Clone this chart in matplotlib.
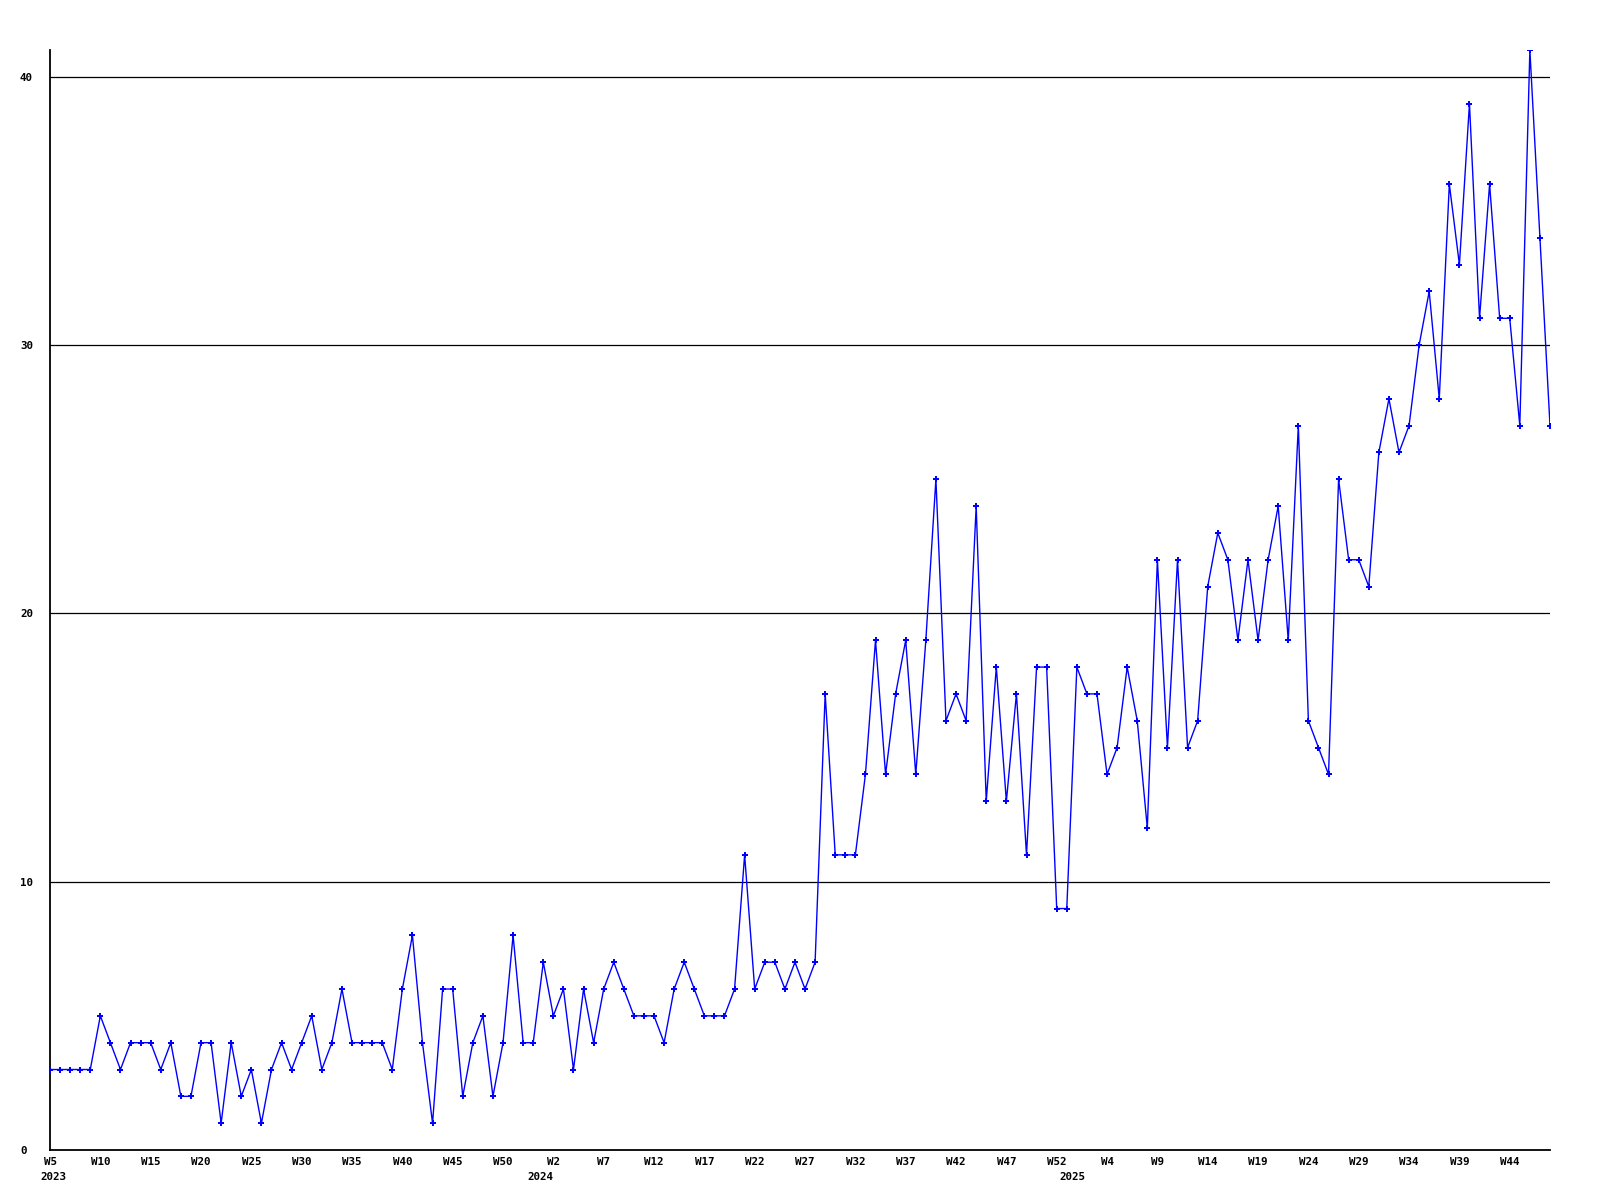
import matplotlib
matplotlib.use('Agg')
import matplotlib.pyplot as plt
import matplotlib.transforms as mtransforms

# weekly counts, 2023 W5 .. 2025 W48
counts_2023 = [3, 3, 3, 3, 3, 5, 4, 3, 4, 4, 4, 3, 4, 2, 2, 4, 4, 1, 4, 2,
               3, 1, 3, 4, 3, 4, 5, 3, 4, 6, 4, 4, 4, 4, 3, 6, 8, 4, 1, 6,
               6, 2, 4, 5, 2, 4, 8, 4]
counts_2024 = [4, 7, 5, 6, 3, 6, 4, 6, 7, 6, 5, 5, 5, 4, 6, 7, 6, 5, 5, 5,
               6, 11, 6, 7, 7, 6, 7, 6, 7, 17, 11, 11, 11, 14, 19, 14, 17, 19, 14, 19,
               25, 16, 17, 16, 24, 13, 18, 13, 17, 11, 18, 18]
counts_2025 = [9, 9, 18, 17, 17, 14, 15, 18, 16, 12, 22, 15, 22, 15, 16, 21, 23, 22, 19, 22,
               19, 22, 24, 19, 27, 16, 15, 14, 25, 22, 22, 21, 26, 28, 26, 27, 30, 32, 28, 36,
               33, 39, 31, 36, 31, 31, 27, 41, 34, 27]

counts = counts_2023 + counts_2024 + counts_2025

# x tick labels (every 5th week) and where they sit in the series
tick_labels = ['W5', 'W10', 'W15', 'W20', 'W25', 'W30', 'W35', 'W40', 'W45', 'W50',
               'W2', 'W7', 'W12', 'W17', 'W22', 'W27', 'W32', 'W37', 'W42', 'W47', 'W52',
               'W4', 'W9', 'W14', 'W19', 'W24', 'W29', 'W34', 'W39', 'W44']
tick_pos = [0, 5, 10, 15, 20, 25, 30, 35, 40, 45,
            50, 55, 60, 65, 70, 75, 80, 85, 90, 95, 100,
            105, 110, 115, 120, 125, 130, 135, 140, 145]
year_labels = ['2023', '2024', '2025']
year_pos = [0.3, 48.7, 101.6]

yticks = [0, 10, 20, 30, 40]

font = {'family': 'DejaVu Sans Mono', 'weight': 'bold', 'size': 7.8}

fig = plt.figure(figsize=(16, 12), dpi=100)
ax = fig.add_axes([50/1600, 50/1200, 1500/1600, 1100/1200])

for y in yticks[1:]:
    ax.axhline(y, color='black', linewidth=0.9, zorder=1)

ax.plot(range(len(counts)), counts, color='#0000ff', linewidth=1.0,
        marker='P', markersize=4, markeredgewidth=0, zorder=3, clip_on=True)

ax.set_xlim(0, len(counts) - 1)
ax.set_ylim(0, max(counts))

for s in ['top', 'right']:
    ax.spines[s].set_visible(False)
for s in ['left', 'bottom']:
    ax.spines[s].set_linewidth(1.3)
    ax.spines[s].set_color('black')

ax.set_yticks(yticks)
ax.set_yticklabels([str(v) for v in yticks], fontdict=font, ha='left')
ax.set_xticks(tick_pos)
ax.set_xticklabels(tick_labels, fontdict=font)
ax.tick_params(axis='both', length=0)
ax.tick_params(axis='y', pad=21.6)
ax.tick_params(axis='x', pad=5)

trans = mtransforms.blended_transform_factory(ax.transData, fig.transFigure)
for lab, xp in zip(year_labels, year_pos):
    ax.text(xp, 1 - 1177/1200, lab, transform=trans, ha='center', va='center',
            fontdict=font, clip_on=False)

fig.savefig('out.png', dpi=100, facecolor='white')
